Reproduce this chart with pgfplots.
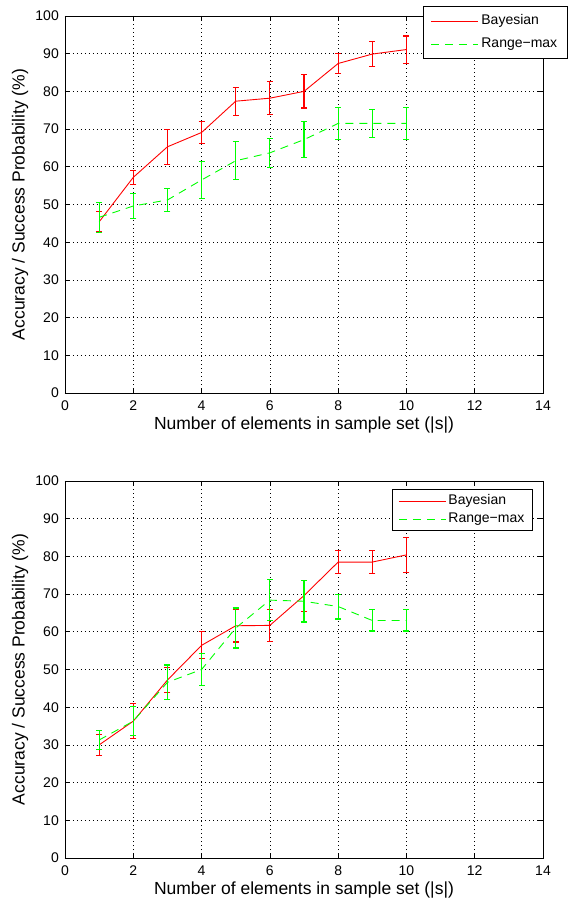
\documentclass[border=0pt]{standalone}
\usepackage{fontspec}
\setmainfont{Liberation Sans}
\usepackage{pgfplots}
\usepackage{pgfplotstable}
\pgfplotsset{compat=1.18}
\definecolor{mred}{rgb}{1,0,0}
\definecolor{mgreen}{rgb}{0,1,0}

\pgfplotstableread{
x  b     be   r     re
1  45.4  2.7  46.6  4.0
2  57.2  1.8  49.6  3.3
3  65.3  4.6  51.2  3.1
4  69.1  3.0  56.5  4.8
5  77.4  3.7  61.6  5.0
6  78.2  4.4  63.7  3.8
7  80.0  4.4  67.2  4.7
8  87.4  2.7  71.5  4.3
9  89.9  3.3  71.5  3.8
10 91.1  3.6  71.5  4.3
}\topdata

\pgfplotstableread{
x  b     be   r     re
1  30.0  2.8  31.3  2.5
2  36.3  4.6  36.3  3.9
3  47.2  3.4  46.6  4.6
4  56.4  3.6  50.0  4.3
5  61.6  4.3  61.0  5.3
6  61.7  4.2  68.4  5.5
7  69.6  4.1  68.1  5.5
8  78.5  3.1  66.7  3.3
9  78.5  3.1  63.0  2.8
10 80.4  4.7  63.0  2.8
}\botdata

\pgfplotsset{
  mstyle/.style={
    scale only axis, width=478pt, height=377pt,
    xmin=0, xmax=14, ymin=0, ymax=100,
    xtick={0,2,...,14}, ytick={0,10,...,100},
    grid=major,
    major grid style={black, line width=0.6pt, dash pattern=on 0.8pt off 3.2pt},
    axis line style={black, line width=0.8pt},
    tick style={black, line width=0.6pt},
    major tick length=5pt,
    tick align=inside,
    /pgf/number format/assume math mode=true,
    tick label style={font=\fontsize{14}{16}\selectfont},
    xticklabel style={inner sep=0pt, yshift=-8pt},
    yticklabel style={inner sep=0pt, xshift=-6pt},
    xlabel={Number of elements in sample set (|s|)},
    ylabel={Accuracy / Success Probability (\%)},
    every axis x label/.style={at={(axis description cs:0.5,-0.084)}, anchor=center,
      font=\fontsize{17.5}{20}\selectfont},
    every axis y label/.style={at={(axis description cs:-0.094,0.5)}, anchor=center, rotate=90,
      font=\fontsize{17.5}{20}\selectfont},
    legend cell align=left,
    legend image code/.code={\draw[##1, line width=1pt] (0pt,0pt) -- (47pt,0pt);},
  },
  redline/.style={draw=mred, color=mred, line width=0.9pt, solid, mark=none,
    error bars/.cd, y dir=both, y explicit,
    error bar style={draw=mred, color=mred, line width=1.1pt, solid},
    error mark options={draw=mred, color=mred, rotate=90, mark size=3pt, line width=1.1pt, solid}},
  greenline/.style={draw=mgreen, color=mgreen, line width=0.9pt, dash pattern=on 8pt off 6pt, mark=none,
    error bars/.cd, y dir=both, y explicit,
    error bar style={draw=mgreen, color=mgreen, line width=1.1pt, solid},
    error mark options={draw=mgreen, color=mgreen, rotate=90, mark size=3pt, line width=1.1pt, solid}},
}

\begin{document}
\begin{tikzpicture}[x=1pt,y=1pt]
\useasboundingbox (0,0) rectangle (569,900);

\begin{axis}[mstyle, at={(65pt,507pt)}, anchor=south west,
  legend style={at={(rel axis cs:1.052,1.0265)}, anchor=north east,
    draw=black, line width=1.2pt, fill=white,
    inner xsep=7pt, inner ysep=3pt, row sep=0pt,
    nodes={inner xsep=3pt, inner ysep=5pt, text height=10pt, text depth=3pt,
      font=\fontsize{14}{16}\selectfont}},
]
\addplot[redline] table[x=x, y=b, y error=be] {\topdata};
\addlegendentry{Bayesian}
\addplot[greenline] table[x=x, y=r, y error=re] {\topdata};
\addlegendentry{Range−max}
\end{axis}

\begin{axis}[mstyle, at={(65pt,42pt)}, anchor=south west,
  legend style={at={(rel axis cs:0.979,0.979)}, anchor=north east,
    draw=black, line width=1.2pt, fill=white,
    inner xsep=6pt, inner ysep=2.5pt, row sep=0pt,
    nodes={inner xsep=2pt, inner ysep=2.5pt, text height=10pt, text depth=3pt,
      font=\fontsize{14}{16}\selectfont}},
]
\addplot[redline] table[x=x, y=b, y error=be] {\botdata};
\addlegendentry{Bayesian}
\addplot[greenline] table[x=x, y=r, y error=re] {\botdata};
\addlegendentry{Range−max}
\end{axis}
\end{tikzpicture}
\end{document}
